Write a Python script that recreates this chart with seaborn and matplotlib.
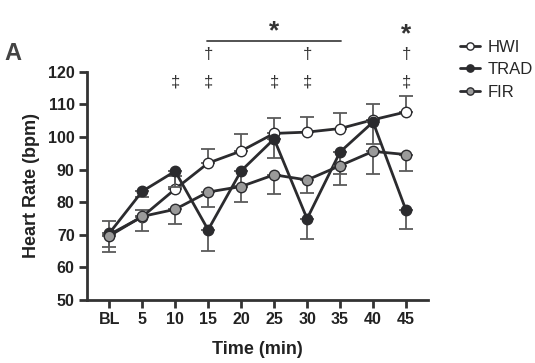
import numpy as np
import pandas as pd
import matplotlib
matplotlib.use("Agg")
import matplotlib.pyplot as plt
import seaborn as sns

sns.set_style("ticks")
plt.rcParams['font.family'] = ['Liberation Sans', 'DejaVu Sans']

time = [0, 5, 10, 15, 20, 25, 30, 35, 40, 45]
time_labels = ["BL", "5", "10", "15", "20", "25", "30", "35", "40", "45"]

hwi = [70.0, 75.5, 84.0, 92.0, 95.7, 101.1, 101.5, 102.6, 105.3, 107.7]
hwi_upper = [74.3, 77.6, 88.0, 96.4, 101.0, 105.8, 106.2, 107.4, 110.2, 112.5]

trad = [70.4, 83.3, 89.5, 71.5, 89.6, 99.4, 74.9, 95.4, 104.6, 77.5]
trad_lower = [66.2, 81.7, 84.5, 65.0, 85.0, 93.7, 68.8, 88.6, 98.0, 71.9]

fir = [69.6, 75.6, 77.8, 83.1, 84.8, 88.4, 86.8, 91.2, 95.6, 94.6]
fir_lower = [64.6, 71.0, 73.2, 78.5, 80.0, 82.6, 82.7, 85.4, 88.7, 89.5]

dagger_x = [15, 30, 45]
ddagger_x = [10, 15, 25, 30, 45]

line_col = "#2b2b2e"
err_col = "#5a5a5a"

fig = plt.figure(figsize=(5.35, 3.63), dpi=100)
ax = fig.add_axes([0.163, 0.174, 0.637, 0.628])

series = [
    ("HWI", hwi, "white", np.zeros(10), np.array(hwi_upper) - np.array(hwi)),
    ("TRAD", trad, line_col, np.array(trad) - np.array(trad_lower), np.zeros(10)),
    ("FIR", fir, "#9a9a9a", np.array(fir) - np.array(fir_lower), np.zeros(10)),
]

for i, (name, vals, face, lo, up) in enumerate(series):
    ax.errorbar(time, vals, yerr=[lo, up], fmt="none", ecolor=err_col,
                elinewidth=1.3, capsize=5, capthick=1.3, zorder=2 + i)
    df = pd.DataFrame({"time": time, "hr": vals})
    sns.lineplot(data=df, x="time", y="hr", ax=ax, color=line_col, lw=2,
                 marker="o", markersize=7.5, markerfacecolor=face,
                 markeredgecolor=line_col, markeredgewidth=1.0,
                 label=name, zorder=3 + i)

ax.set_xlim(-3.33, 48.33)
ax.set_ylim(50, 120)
ax.set_xticks(time)
ax.set_xticklabels(time_labels)
ax.set_yticks(range(50, 121, 10))
for lab in ax.get_xticklabels() + ax.get_yticklabels():
    lab.set_fontweight("bold")
    lab.set_fontsize(11.5)
    lab.set_color("#222222")
ax.tick_params(width=2, length=6, color="#333333", pad=3)
for s in ["left", "bottom"]:
    ax.spines[s].set_linewidth(2)
    ax.spines[s].set_color("#333333")
sns.despine(ax=ax)
ax.set_xlabel("Time (min)", fontsize=13, fontweight="bold", color="#222222",
              labelpad=10)
ax.set_ylabel("Heart Rate (bpm)", fontsize=13, fontweight="bold",
              color="#222222", labelpad=6)

# significance marks
for x in ddagger_x:
    ax.text(x, 116.8, "‡", ha="center", va="center", fontsize=12,
            color="#333333", clip_on=False)
for x in dagger_x:
    ax.text(x, 125.2, "†", ha="center", va="center", fontsize=12,
            color="#333333", clip_on=False)
ax.plot([14.8, 35.2], [129.4, 129.4], color="#444444", lw=1.3, clip_on=False)
ax.text(25, 132.4, "*", ha="center", va="center", fontsize=19,
        fontweight="bold", color="#333333", clip_on=False)
ax.text(45, 131.4, "*", ha="center", va="center", fontsize=19,
        fontweight="bold", color="#333333", clip_on=False)

fig.text(0.008, 0.852, "A", fontsize=17, fontweight="bold", color="#444444",
         va="center")

handles, labels = ax.get_legend_handles_labels()
ax.legend_.remove()
fig.legend(handles, labels, loc="upper left", bbox_to_anchor=(0.842, 0.918),
           frameon=False, fontsize=12, handlelength=1.2, handletextpad=0.4,
           labelspacing=0.45, markerscale=0.7, borderaxespad=0.2)

fig.savefig("out.png", dpi=100)
